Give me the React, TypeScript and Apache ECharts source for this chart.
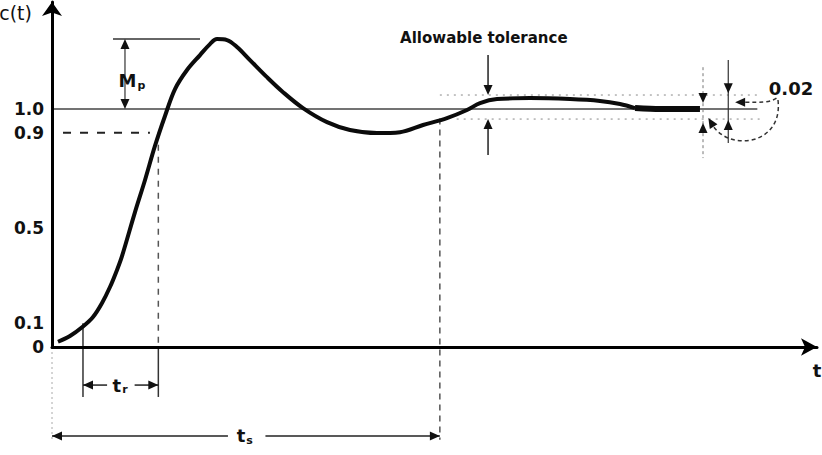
import React, { useEffect, useRef } from "react";
import * as echarts from "echarts";

// ---- Data ----
const curveT = [0.078, 0.235, 0.405, 0.536, 0.654, 0.758, 0.85, 0.915, 1.085, 1.216, 1.346, 1.477, 1.608, 1.765, 1.935, 2.065, 2.157, 2.288, 2.418, 2.588, 2.81, 3.02, 3.281, 3.595, 3.895, 4.248, 4.549, 4.85, 5.163, 5.425, 5.595, 5.817, 6.248, 6.771, 7.163, 7.425, 7.621];
const curveC = [0.022, 0.046, 0.086, 0.126, 0.185, 0.252, 0.324, 0.382, 0.567, 0.702, 0.845, 0.971, 1.084, 1.164, 1.227, 1.273, 1.294, 1.29, 1.261, 1.206, 1.134, 1.071, 1.004, 0.945, 0.912, 0.899, 0.903, 0.933, 0.962, 0.996, 1.025, 1.042, 1.046, 1.042, 1.034, 1.021, 1.004];
const settledT = [7.621, 7.95, 8.47];
const settledC = [1.004, 1.0, 1.0];

const yTickValues = [0, 0.1, 0.5, 0.9, 1.0];
const yTickLabels = ["0", "0.1", "0.5", "0.9", "1.0"];

const finalValue = 1.0;
const peakValue = 1.294;
const riseLevels = [0.1, 0.9];
const riseTimes = [0.405, 1.39];
const settlingTime = 5.07;
const toleranceBand = [0.958, 1.059];

const FONT = "DejaVu Sans";
const INK = "#111";

function buildGraphics(chart: any) {
  const P = (t: number, c: number): number[] =>
    chart.convertToPixel({ gridIndex: 0 }, [t, c]) as number[];
  const g: any[] = [];
  const seg = (a: number[], b: number[], color = "#222", w = 1.5, dash?: number[]) =>
    g.push({
      type: "line",
      silent: true,
      shape: { x1: a[0], y1: a[1], x2: b[0], y2: b[1] },
      style: { stroke: color, lineWidth: w, lineDash: dash },
    });
  const head = (tip: number[], from: number[], len = 10, half = 4.5, color = INK) => {
    const dx = tip[0] - from[0];
    const dy = tip[1] - from[1];
    const d = Math.hypot(dx, dy) || 1;
    const ux = dx / d, uy = dy / d;
    const bx = tip[0] - ux * len, by = tip[1] - uy * len;
    g.push({
      type: "polygon",
      silent: true,
      shape: { points: [tip, [bx - uy * half, by + ux * half], [bx + uy * half, by - ux * half]] },
      style: { fill: color },
    });
  };
  const txt = (p: number[], text: string, opts: any = {}) =>
    g.push({
      type: "text",
      silent: true,
      x: p[0],
      y: p[1],
      style: {
        text,
        fill: INK,
        font: `${opts.weight || "normal"} ${opts.size || 17}px "${FONT}"`,
        align: opts.align || "left",
        verticalAlign: "middle",
      },
    });
  const subTxt = (p: number[], main: string, s: string, align = "center") => {
    g.push({
      type: "text",
      silent: true,
      x: p[0],
      y: p[1],
      style: {
        text: `{m|${main}}{s|${s}}`,
        rich: {
          m: { fontSize: 18, fontFamily: FONT, fill: INK, fontWeight: "bold" },
          s: { fontSize: 11, fontFamily: FONT, fill: INK, fontWeight: "bold", padding: [9, 0, 0, 1] },
        },
        align,
        verticalAlign: "middle",
        fill: INK,
      },
    });
  };

  // final value reference line
  seg(P(0, finalValue), P(9.22, finalValue), "#444", 1.5);
  // tolerance band (dotted)
  seg(P(settlingTime, toleranceBand[1]), P(9.25, toleranceBand[1]), "#888", 1, [2, 5]);
  seg(P(5.29, toleranceBand[0]), P(9.25, toleranceBand[0]), "#888", 1, [2, 5]);
  // 0.9 dashed
  seg(P(0.144, riseLevels[1]), P(1.28, riseLevels[1]), "#222", 2, [8, 9]);

  // Mp
  seg(P(0.797, peakValue), P(1.935, peakValue), "#333", 1.5);
  seg(P(0.954, peakValue - 0.03), P(0.954, finalValue + 0.03), "#333", 1.2);
  head(P(0.954, peakValue), P(0.954, finalValue));
  head(P(0.954, finalValue), P(0.954, peakValue));
  subTxt(P(0.87, 1.12), "M", "p", "left");

  // rise time
  seg(P(riseTimes[0], riseLevels[0]), P(riseTimes[0], -0.21), "#333", 1.5);
  seg(P(riseTimes[1], riseLevels[1]), P(riseTimes[1], 0), "#555", 1.5, [6, 6]);
  seg(P(riseTimes[1], 0), P(riseTimes[1], -0.21), "#333", 1.5);
  seg(P(riseTimes[0], -0.16), P(0.72, -0.16), "#222", 1.5);
  seg(P(1.08, -0.16), P(riseTimes[1], -0.16), "#222", 1.5);
  head(P(riseTimes[0], -0.16), P(1, -0.16));
  head(P(riseTimes[1], -0.16), P(0.5, -0.16));
  subTxt(P(0.89, -0.16), "t", "r");

  // settling time
  seg(P(settlingTime, 0.96), P(settlingTime, -0.39), "#555", 1.5, [6, 5]);
  seg(P(0, 0), P(0, -0.39), "#aaa", 1, [2, 3]);
  seg(P(0, -0.374), P(2.3, -0.374), "#222", 1.5);
  seg(P(2.79, -0.374), P(settlingTime, -0.374), "#222", 1.5);
  head(P(0, -0.374), P(2, -0.374));
  head(P(settlingTime, -0.374), P(3, -0.374));
  subTxt(P(2.52, -0.374), "t", "s");

  // Allowable tolerance
  txt(P(4.55, 1.298), "Allowable tolerance", { size: 15, weight: "bold" });
  seg(P(5.7, 1.227), P(5.7, 1.07), "#222", 1.5);
  head(P(5.7, toleranceBand[1]), P(5.7, 1.2));
  seg(P(5.7, 0.807), P(5.7, 0.945), "#222", 1.5);
  head(P(5.7, toleranceBand[0]), P(5.7, 0.85));

  // right-hand 0.02 annotation
  seg(P(8.51, 1.176), P(8.51, 0.794), "#777", 1, [3, 3]);
  head(P(8.51, 1.025), P(8.51, 1.15));
  head(P(8.51, 0.941), P(8.51, 0.82));
  seg(P(8.84, 1.206), P(8.84, 0.857), "#333", 1.2);
  head(P(8.84, 1.067), P(8.84, 1.2));
  head(P(8.84, 0.954), P(8.84, 0.87));
  txt(P(9.37, 1.088), "0.02", { size: 18, weight: "bold" });
  const u0 = P(9.47, 1.046), u1 = P(9.38, 1.025), u2 = P(9.25, 1.029), u3 = P(9.05, 1.029);
  g.push({
    type: "bezierCurve",
    silent: true,
    shape: { x1: u0[0], y1: u0[1], cpx1: u1[0], cpy1: u1[1], cpx2: u2[0], cpy2: u2[1], x2: u3[0], y2: u3[1] },
    style: { stroke: "#333", lineWidth: 1.5, lineDash: [4, 3], fill: "none" },
  });
  head(P(8.93, 1.029), P(9.1, 1.029));
  const l0 = P(9.49, 1.038), l1 = P(9.56, 0.85), l2 = P(8.86, 0.82), l3 = P(8.64, 0.93);
  g.push({
    type: "bezierCurve",
    silent: true,
    shape: { x1: l0[0], y1: l0[1], cpx1: l1[0], cpy1: l1[1], cpx2: l2[0], cpy2: l2[1], x2: l3[0], y2: l3[1] },
    style: { stroke: "#333", lineWidth: 1.5, lineDash: [4, 3], fill: "none" },
  });
  head(P(8.58, 0.962), P(8.68, 0.91));

  return g;
}

export default function App() {
  const ref = useRef<HTMLDivElement>(null);
  useEffect(() => {
    if (!ref.current) return;
    const chart = echarts.init(ref.current, undefined, { renderer: "svg" });
    chart.setOption({
      animation: false,
      backgroundColor: "#fff",
      grid: { left: 52, top: 2, right: 5, bottom: 108, outerBoundsMode: "none" },
      xAxis: {
        type: "value",
        min: 0,
        max: 10,
        name: "t",
        nameLocation: "end",
        nameGap: 0,
        nameTextStyle: { fontFamily: FONT, fontSize: 18, color: INK, fontWeight: "bold", align: "center", verticalAlign: "top", padding: [14, 0, 0, 0] },
        axisLine: { lineStyle: { color: "#000", width: 3 }, symbol: ["none", "arrow"], symbolSize: [13, 16] },
        axisTick: { show: false },
        axisLabel: { show: false },
        splitLine: { show: false },
      },
      yAxis: {
        type: "value",
        min: 0,
        max: 1.45,
        interval: 0.05,
        name: "c(t)",
        nameLocation: "end",
        nameGap: -11,
        nameTextStyle: { fontFamily: FONT, fontSize: 19, color: INK, align: "right", verticalAlign: "middle", padding: [0, 20, 0, 0] },
        axisLine: { show: true, lineStyle: { color: "#000", width: 3 }, symbol: ["none", "arrow"], symbolSize: [15, 14] },
        axisTick: { show: false },
        splitLine: { show: false },
        axisLabel: {
          margin: 8,
          color: INK,
          fontFamily: FONT,
          fontSize: 17,
          fontWeight: "bold",
          showMaxLabel: false,
          formatter: (v: number) => {
            const i = yTickValues.findIndex((x) => Math.abs(x - v) < 1e-6);
            return i >= 0 ? yTickLabels[i] : "";
          },
        },
      },
      series: [
        {
          type: "line",
          data: curveT.map((t, i) => [t, curveC[i]]),
          smooth: 0.35,
          symbol: "none",
          lineStyle: { color: "#0b0b0b", width: 4 },
          z: 5,
        },
        {
          type: "line",
          data: settledT.map((t, i) => [t, settledC[i]]),
          smooth: 0.3,
          symbol: "none",
          lineStyle: { color: "#0b0b0b", width: 6 },
          z: 5,
        },
      ],
    });
    chart.setOption({ graphic: buildGraphics(chart) });
    return () => chart.dispose();
  }, []);
  return <div ref={ref} style={{ position: "absolute", left: 0, top: 0, width: 822, height: 455 }} />;
}
